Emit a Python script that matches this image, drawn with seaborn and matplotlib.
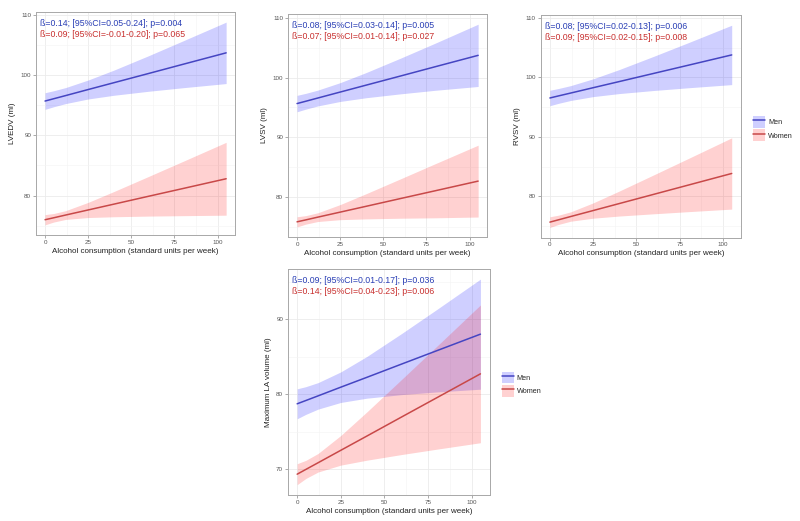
import pandas as pd
import seaborn as sns
import matplotlib.pyplot as plt
from matplotlib.patches import Patch
from matplotlib.lines import Line2D
from matplotlib.ticker import MultipleLocator

sns.set_theme(style="white")
plt.rcParams['font.family'] = ['Liberation Sans', 'DejaVu Sans']

alcohol = [0, 5, 12, 25, 40, 60, 80, 105]

# LVEDV
lvedv_men_fit = [95.70, 96.08, 96.61, 97.61, 98.75, 100.27, 101.80, 103.70]
lvedv_men_hi = [97.08, 97.41, 97.94, 99.19, 100.84, 103.22, 105.69, 108.80]
lvedv_men_lo = [94.32, 94.75, 95.28, 96.04, 96.66, 97.32, 97.91, 98.60]
lvedv_women_fit = [76.00, 76.32, 76.78, 77.62, 78.59, 79.89, 81.18, 82.80]
lvedv_women_hi = [76.85, 77.03, 77.51, 78.88, 80.69, 83.18, 85.69, 88.85]
lvedv_women_lo = [75.15, 75.61, 76.05, 76.36, 76.49, 76.60, 76.67, 76.75]

# LVSV
lvsv_men_fit = [95.65, 96.03, 96.57, 97.57, 98.72, 100.25, 101.79, 103.70]
lvsv_men_hi = [97.02, 97.35, 97.89, 99.14, 100.82, 103.23, 105.72, 108.90]
lvsv_men_lo = [94.28, 94.71, 95.25, 96.00, 96.62, 97.27, 97.86, 98.50]
lvsv_women_fit = [75.90, 76.22, 76.68, 77.52, 78.49, 79.79, 81.08, 82.70]
lvsv_women_hi = [76.75, 76.93, 77.41, 78.78, 80.59, 83.08, 85.59, 88.70]
lvsv_women_lo = [75.05, 75.51, 75.95, 76.26, 76.39, 76.50, 76.57, 76.70]

# RVSV
rvsv_men_fit = [96.55, 96.90, 97.38, 98.28, 99.31, 100.69, 102.07, 103.80]
rvsv_men_hi = [97.85, 98.15, 98.63, 99.78, 101.33, 103.57, 105.87, 108.80]
rvsv_men_lo = [95.25, 95.65, 96.13, 96.78, 97.29, 97.81, 98.27, 98.80]
rvsv_women_fit = [75.65, 76.04, 76.59, 77.60, 78.77, 80.33, 81.89, 83.84]
rvsv_women_hi = [76.55, 76.82, 77.38, 78.89, 80.87, 83.61, 86.37, 89.84]
rvsv_women_lo = [74.75, 75.26, 75.80, 76.31, 76.67, 77.05, 77.41, 77.84]

# Maximum LA volume
la_men_fit = [78.70, 79.14, 79.76, 80.92, 82.24, 84.02, 85.79, 88.00]
la_men_hi = [80.70, 80.99, 81.53, 82.96, 85.03, 88.11, 91.30, 95.35]
la_men_lo = [76.70, 77.29, 77.99, 78.88, 79.45, 79.93, 80.28, 80.65]
la_women_fit = [69.30, 69.94, 70.83, 72.49, 74.40, 76.96, 79.51, 82.70]
la_women_hi = [70.70, 71.15, 72.07, 74.47, 77.63, 81.99, 86.38, 91.90]
la_women_lo = [67.90, 68.73, 69.59, 70.51, 71.17, 71.93, 72.64, 73.50]

men_txt = ["ß=0.14; [95%CI=0.05-0.24]; p=0.004", "ß=0.08; [95%CI=0.03-0.14]; p=0.005",
           "ß=0.08; [95%CI=0.02-0.13]; p=0.006", "ß=0.09; [95%CI=0.01-0.17]; p=0.036"]
women_txt = ["ß=0.09; [95%CI=-0.01-0.20]; p=0.065", "ß=0.07; [95%CI=0.01-0.14]; p=0.027",
             "ß=0.09; [95%CI=0.02-0.15]; p=0.008", "ß=0.14; [95%CI=0.04-0.23]; p=0.006"]
ylabels = ["LVEDV (ml)", "LVSV (ml)", "RVSV (ml)", "Maximum LA volume (ml)"]

men_line, women_line = "#4545C2", "#C84848"
men_fill, women_fill = "#0000FF", "#FF0000"
men_col, women_col = "#2A3FB5", "#C8302F"

panels = [
    (lvedv_men_fit, lvedv_men_hi, lvedv_men_lo, lvedv_women_fit, lvedv_women_hi, lvedv_women_lo),
    (lvsv_men_fit, lvsv_men_hi, lvsv_men_lo, lvsv_women_fit, lvsv_women_hi, lvsv_women_lo),
    (rvsv_men_fit, rvsv_men_hi, rvsv_men_lo, rvsv_women_fit, rvsv_women_hi, rvsv_women_lo),
    (la_men_fit, la_men_hi, la_men_lo, la_women_fit, la_women_hi, la_women_lo),
]

fig = plt.figure(figsize=(8, 5.21), dpi=100)
rects = [[0.045, 0.549, 0.249, 0.428],
         [0.360, 0.545, 0.249, 0.428],
         [0.676, 0.544, 0.250, 0.427],
         [0.360, 0.050, 0.252, 0.434]]

for i, (mf, mh, ml, wf, wh, wl) in enumerate(panels):
    ax = fig.add_axes(rects[i])
    df = pd.DataFrame({
        "alcohol": alcohol * 2,
        "fit": mf + wf,
        "sex": ["Men"] * len(alcohol) + ["Women"] * len(alcohol),
    })
    ax.fill_between(alcohol, ml, mh, color=men_fill, alpha=0.19, lw=0, zorder=2)
    ax.fill_between(alcohol, wl, wh, color=women_fill, alpha=0.18, lw=0, zorder=2)
    sns.lineplot(data=df, x="alcohol", y="fit", hue="sex",
                 palette={"Men": men_line, "Women": women_line},
                 lw=1.1, legend=False, ax=ax, zorder=3)
    ax.set_xlim(-5.25, 110.25)
    lo = min(ml + wl)
    hi = max(mh + wh)
    pad = (hi - lo) * 0.05
    ax.set_ylim(lo - pad, hi + pad)
    ax.xaxis.set_major_locator(MultipleLocator(25))
    ax.xaxis.set_minor_locator(MultipleLocator(12.5))
    ax.yaxis.set_major_locator(MultipleLocator(10))
    ax.yaxis.set_minor_locator(MultipleLocator(5))
    ax.grid(which="major", color="#EBEBEB", lw=0.6, zorder=0)
    ax.grid(which="minor", color="#F4F4F4", lw=0.4, zorder=0)
    ax.set_axisbelow(True)
    for s in ax.spines.values():
        s.set_color("#A8A8A8")
        s.set_linewidth(0.7)
    ax.tick_params(which="major", length=2, width=0.5, color="#888888",
                   labelsize=4.5, labelcolor="#555555", pad=1.5,
                   bottom=True, left=True)
    ax.tick_params(which="minor", length=0)
    ax.set_xlabel("Alcohol consumption (standard units per week)", fontsize=5.8,
                  color="#222222", labelpad=2)
    ax.set_ylabel(ylabels[i], fontsize=5.8, color="#222222", labelpad=3)
    ax.text(0.02, 0.97, men_txt[i], transform=ax.transAxes, ha="left", va="top",
            fontsize=6.3, color=men_col, zorder=5)
    ax.text(0.02, 0.918, women_txt[i], transform=ax.transAxes, ha="left", va="top",
            fontsize=6.3, color=women_col, zorder=5)
    if i >= 2:
        handles = [(Patch(facecolor=men_fill, alpha=0.19, lw=0), Line2D([], [], color=men_line, lw=1.1)),
                   (Patch(facecolor=women_fill, alpha=0.18, lw=0), Line2D([], [], color=women_line, lw=1.1))]
        ax.legend(handles, ["Men", "Women"], loc="center left",
                  bbox_to_anchor=(1.06, 0.49), frameon=False, fontsize=5.2,
                  borderaxespad=0, borderpad=0, handlelength=1.7,
                  handleheight=2.1, handletextpad=0.4, labelspacing=0.25)

fig.savefig("out.png", dpi=100)
